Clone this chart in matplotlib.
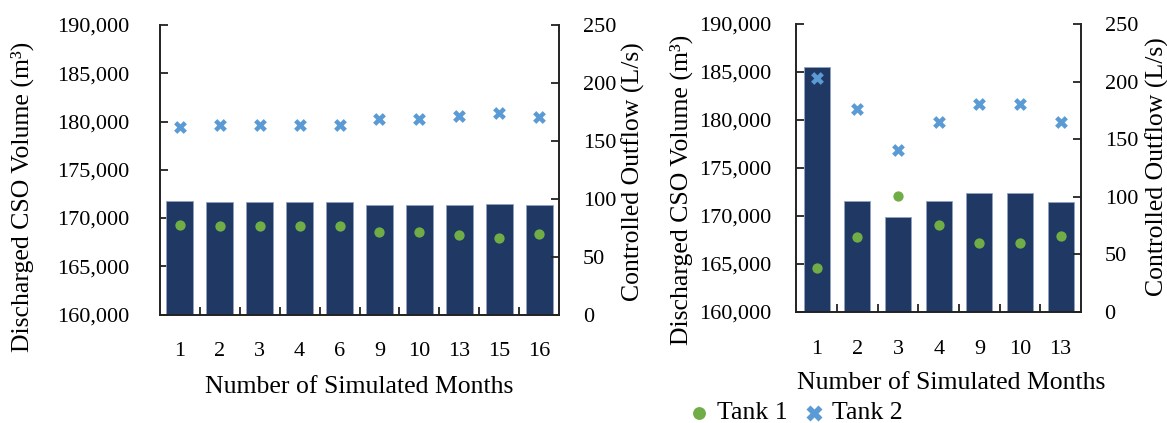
import matplotlib
matplotlib.use("Agg")
import matplotlib.pyplot as plt
from matplotlib.ticker import FuncFormatter, FixedLocator
import numpy as np

# ---- data ----
months_a = ["1", "2", "3", "4", "6", "9", "10", "13", "15", "16"]
cso_a = [171800, 171700, 171700, 171700, 171700, 171300, 171300, 171300, 171400, 171300]
tank1_a = [77.6, 76.4, 76.4, 76.4, 76.4, 71.3, 71.3, 68.4, 66.1, 69.5]
tank2_a = [162.3, 163.5, 163.5, 163.5, 163.5, 169.0, 169.0, 171.8, 173.9, 170.4]

months_b = ["1", "2", "3", "4", "9", "10", "13"]
cso_b = [185500, 171600, 169900, 171600, 172400, 172400, 171500]
tank1_b = [38.2, 64.8, 100.4, 75.5, 59.9, 59.9, 66.0]
tank2_b = [202.8, 176.2, 140.6, 165.2, 180.8, 180.8, 164.9]

BAR = "#203864"
GREEN = "#70AD47"
BLUE = "#5B9BD5"
FONT = "Liberation Serif"
TFS = 16      # tick labels
LFS = 18.5    # axis titles
W, H = 1167, 423

plt.rcParams["font.family"] = FONT

fig = plt.figure(figsize=(W / 100, H / 100), dpi=100)


def px(x, y):
    return x / W, 1 - y / H


def panel(rect, cats, cso, t1, t2, width, lpad, rpad):
    ax = fig.add_axes(rect)
    x = np.arange(len(cats))
    ax.bar(x, [v - 160000 for v in cso], bottom=160000, width=width,
           color=BAR, edgecolor="#8FA3C0", linewidth=0.6, zorder=2)
    ax.set_ylim(160000, 190000)
    ax.set_xlim(-0.5, len(cats) - 0.5)
    ax.yaxis.set_major_locator(FixedLocator(np.arange(160000, 190001, 5000)))
    ax.yaxis.set_major_formatter(FuncFormatter(lambda v, p: f"{int(v):,}"))
    ax.set_xticks(x)
    ax.set_xticklabels(cats)
    ax.set_xticks(np.arange(len(cats) - 1) + 0.5, minor=True)
    ax.tick_params(axis="x", which="major", length=0, pad=20, labelsize=TFS)
    ax.tick_params(axis="x", which="minor", direction="in", length=6, width=1.3, color="#222222")
    ax.tick_params(axis="y", direction="in", length=6, width=1.3, labelsize=TFS,
                   color="#222222", pad=lpad)
    for s in ["top", "right"]:
        ax.spines[s].set_visible(False)
    for s in ["left", "bottom"]:
        ax.spines[s].set_linewidth(1.4)
        ax.spines[s].set_color("#222222")

    ax2 = ax.twinx()
    ax2.set_ylim(0, 250)
    ax2.set_yticks(np.arange(0, 251, 50))
    ax2.tick_params(axis="y", direction="in", length=6, width=1.3, labelsize=TFS,
                    color="#222222", pad=rpad)
    for s in ["top", "left", "bottom"]:
        ax2.spines[s].set_visible(False)
    ax2.spines["right"].set_linewidth(1.4)
    ax2.spines["right"].set_color("#222222")
    h1 = ax2.scatter(x, t1, marker="o", s=55, color=GREEN, zorder=3, label="Tank 1",
                     linewidths=0)
    h2 = ax2.scatter(x, t2, marker="X", s=85, color=BLUE, zorder=3, label="Tank 2",
                     linewidths=0)
    return ax, ax2, h1, h2


panel([159.6 / W, 1 - 314.5 / H, 399.8 / W, 289.5 / H],
      months_a, cso_a, tank1_a, tank2_a, 0.67, 22, 17)
_, _, h1, h2 = panel([796.4 / W, 1 - 312 / H, 284.6 / W, 288 / H],
                     months_b, cso_b, tank1_b, tank2_b, 0.645, 18, 17)

ylab = "Discharged CSO Volume (m³)"
rlab = "Controlled Outflow (L/s)"
xlab = "Number of Simulated Months"

fig.text(*px(22, 197), ylab, rotation=90, ha="center", va="center", fontsize=LFS)
fig.text(*px(633, 172), rlab, rotation=90, ha="center", va="center", fontsize=LFS)
fig.text(*px(359.5, 387), xlab, ha="center", va="center", fontsize=LFS)

fig.text(*px(681, 190), ylab, rotation=90, ha="center", va="center", fontsize=LFS)
fig.text(*px(1157, 167), rlab, rotation=90, ha="center", va="center", fontsize=LFS)
fig.text(*px(951, 383), xlab, ha="center", va="center", fontsize=LFS)

fig.legend([h1, h2], ["Tank 1", "Tank 2"], loc="center left",
           bbox_to_anchor=px(686, 413), ncol=2, frameon=False, fontsize=LFS,
           handletextpad=0.2, columnspacing=0.55, handlelength=1.0,
           borderaxespad=0, borderpad=0, markerscale=1.25)

fig.savefig("out.png", dpi=100)
